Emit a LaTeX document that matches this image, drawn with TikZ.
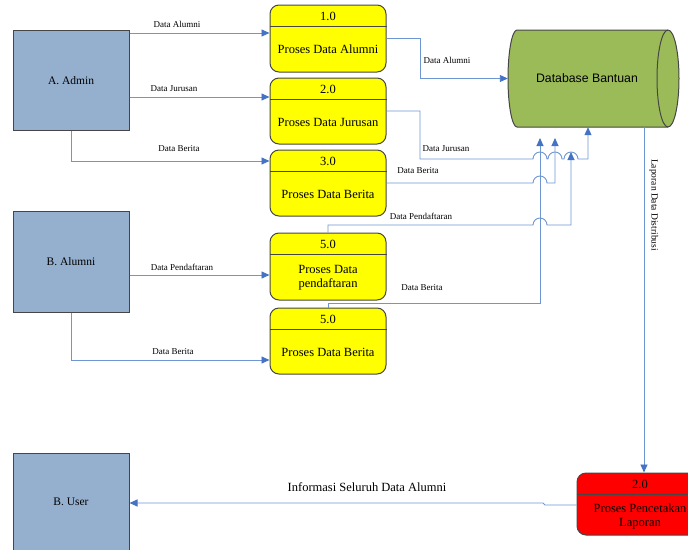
\documentclass[tikz,border=0pt]{standalone}
\usepackage{fontspec}
\setmainfont{Liberation Serif}
\newfontfamily\dbfont{Liberation Sans}
\usetikzlibrary{arrows.meta}
\definecolor{entblue}{RGB}{149,176,207}
\definecolor{procyellow}{RGB}{255,255,0}
\definecolor{procred}{RGB}{255,0,0}
\definecolor{dbgreen}{RGB}{155,187,89}
\definecolor{flowblue}{RGB}{110,150,210}
\definecolor{arrowblue}{RGB}{68,114,196}
\definecolor{edge}{RGB}{70,70,70}
\tikzset{
  ent/.style={draw=edge, line width=1pt, fill=entblue, minimum width=116pt, inner sep=0pt,
    font=\fontsize{11.5}{13}\selectfont},
  proc/.style={draw=edge, line width=1pt, fill=procyellow, rounded corners=9pt,
    minimum width=116pt, inner sep=0pt},
  ptext/.style={font=\fontsize{12.5}{14}\selectfont, align=center, inner sep=0pt},
  lbl/.style={font=\fontsize{9}{10}\selectfont, inner sep=0pt},
  divider/.style={draw=edge, line width=1pt},
  flowline/.style={draw=flowblue, line width=0.9pt},
  flow/.style={flowline, -{Triangle[length=8pt,width=7pt,color=arrowblue]}},
  dbshape/.style={draw=edge, line width=1pt, fill=dbgreen},
}
\begin{document}
\begin{tikzpicture}[x=1pt,y=-1pt]
\useasboundingbox (0,0) rectangle (688,549);
\clip (0,0) rectangle (688,549);

% external entities
\node[ent, minimum height=100pt] (admin) at (71,80.5) {A. Admin};
\node[ent, minimum height=101pt] (alumni) at (71,261.5) {B. Alumni};
\node[ent, minimum height=104pt, text depth=0pt] (user) at (71,505) {};
\node[font=\fontsize{11.5}{13}\selectfont, inner sep=0pt] (usert) at (71,502) {B. User};

% processes
\node[proc, minimum height=67pt] (p1) at (328,38.5) {};
\draw[divider] ([yshift=-22pt]p1.north west) -- ([yshift=-22pt]p1.north east);
\node[ptext] (p1n) at (328,16) {1.0};
\node[ptext] (p1t) at (328,49.5) {Proses Data Alumni};

\node[proc, minimum height=66pt] (p2) at (328,111) {};
\draw[divider] ([yshift=-22pt]p2.north west) -- ([yshift=-22pt]p2.north east);
\node[ptext] (p2n) at (328,89) {2.0};
\node[ptext] (p2t) at (328,122) {Proses Data Jurusan};

\node[proc, minimum height=66pt] (p3) at (328,183) {};
\draw[divider] ([yshift=-22pt]p3.north west) -- ([yshift=-22pt]p3.north east);
\node[ptext] (p3n) at (328,161) {3.0};
\node[ptext] (p3t) at (328,194) {Proses Data Berita};

\node[proc, minimum height=67pt] (p4) at (328,266.5) {};
\draw[divider] ([yshift=-22pt]p4.north west) -- ([yshift=-22pt]p4.north east);
\node[ptext] (p4n) at (328,244.5) {5.0};
\node[ptext] (p4t) at (328,278) {Proses Data\\pendaftaran};

\node[proc, minimum height=66pt] (p5) at (328,341) {};
\draw[divider] ([yshift=-22pt]p5.north west) -- ([yshift=-22pt]p5.north east);
\node[ptext] (p5n) at (328,319.5) {5.0};
\node[ptext] (p5t) at (328,352.5) {Proses Data Berita};

\node[proc, fill=procred, minimum width=126pt, minimum height=62pt] (red) at (640,504) {};
\draw[divider] ([yshift=-22pt]red.north west) -- ([yshift=-22pt]red.north east);
\node[ptext] (redn) at (640,484) {2.0};
\node[ptext] (redt) at (640,516) {Proses Pencetakan\\Laporan};

% data store
\node[minimum width=171pt, minimum height=97pt, inner sep=0pt] (db) at (593.5,78.5) {};
\filldraw[dbshape] (517,30) -- (668,30)
  arc[start angle=90,end angle=-90,x radius=11pt,y radius=48.5pt]
  -- (517,127)
  arc[start angle=270,end angle=90,x radius=9pt,y radius=48.5pt] -- cycle;
\draw[dbshape, fill=none] (668,30) arc[start angle=90,end angle=270,x radius=11pt,y radius=48.5pt];
\node[font=\dbfont\fontsize{12.3}{14}\selectfont, inner sep=0pt] (dbt) at (587,78) {Database Bantuan};

% flows from entities
\draw[flow] (admin.east |- 0,33) -- (p1.west |- 0,33);
\node[lbl] (l1) at (177,24) {Data Alumni};
\draw[flow] (admin.east |- 0,97) -- (p2.west |- 0,97);
\node[lbl] (l2) at (174,89) {Data Jurusan};
\draw[flow] (admin.south) -- (71,161) -- (p3.west |- 0,161);
\node[lbl] (l3) at (179,149) {Data Berita};
\draw[flow] (alumni.east |- 0,275) -- (p4.west |- 0,275);
\node[lbl] (l4) at (182,267) {Data Pendaftaran};
\draw[flow] (alumni.south) -- (71,360) -- (p5.west |- 0,360);
\node[lbl] (l5) at (173,352) {Data Berita};

% flows to data store
\draw[flow] (p1.east |- 0,38) -- (420,38) -- (420,78.5) -- (db.west);
\node[lbl] (l6) at (447,60) {Data Alumni};

\draw[flow] (p2.east |- 0,111) -- (420,111) -- (420,159) -- (533,159)
  arc[start angle=180,end angle=0,radius=7pt] -- (548,159)
  arc[start angle=180,end angle=0,radius=7pt] -- (564,159)
  arc[start angle=180,end angle=0,radius=7pt] -- (588,159) -- (588,0 |- db.south);
\node[lbl] (l7) at (446,149) {Data Jurusan};

\draw[flow] (p3.east |- 0,183) -- (533,183)
  arc[start angle=180,end angle=0,radius=7pt] -- (555,183) -- (555,138);
\node[lbl] (l8) at (418,171) {Data Berita};

\draw[flow] (p4.north) -- (328,225) -- (533,225)
  arc[start angle=180,end angle=0,radius=7pt] -- (571,225) -- (571,152);
\node[lbl] (l9) at (421,216) {Data Pendaftaran};

\draw[flow] (p5.north) -- (328,303) -- (540,303) -- (540,138);
\node[lbl] (l10) at (422,288) {Data Berita};

% report flows
\draw[flow] (644,0 |- db.south) -- (644,0 |- red.north);
\node[lbl, font=\fontsize{9.5}{10}\selectfont, rotate=-90] (l11) at (654,205) {Laporan Data Distribusi};

\draw[flow] (red.west |- 0,505) -- (545,505) -- (543,503) -- (user.east |- 0,503);
\node[ptext] (l12) at (367,487) {Informasi Seluruh Data Alumni};
\end{tikzpicture}
\end{document}
